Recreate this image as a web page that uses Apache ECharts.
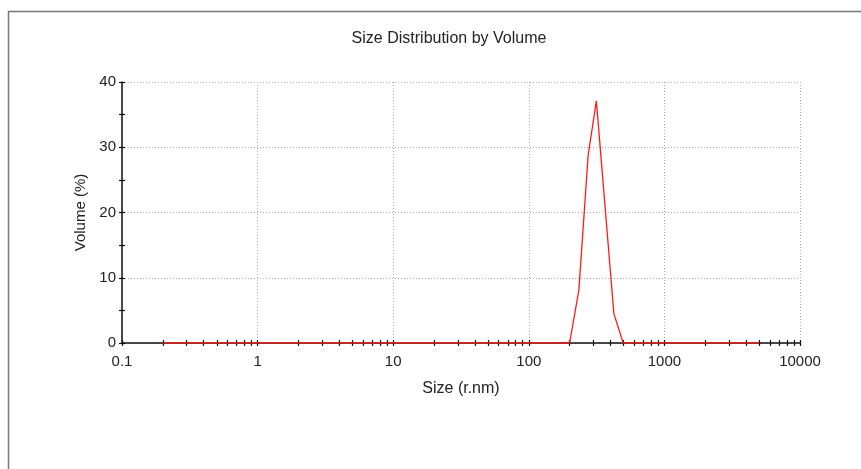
<!DOCTYPE html>
<html><head><meta charset="utf-8">
<script src="https://cdn.jsdelivr.net/npm/echarts@6/dist/echarts.min.js"></script>
<style>html,body{margin:0;padding:0;background:#fff}#c{width:861px;height:469px}</style>
</head><body><div id="c"></div>
<script>
const sizes = [0.2, 200, 234, 274, 315, 424, 497, 5000];
const volumes = [0, 0, 8.1, 28.8, 37.1, 4.5, 0, 0];
const xTicks = [];
[0.1, 1, 10, 100, 1000].forEach(d => { for (let k = 1; k <= 9; k++) xTicks.push(+(d * k).toPrecision(3)); });
xTicks.push(10000);
const xLabels = [0.1, 1, 10, 100, 1000, 10000];

const font = 'Liberation Sans, Arial, sans-serif';
const chart = echarts.init(document.getElementById('c'), null, {renderer: 'canvas'});
const baseX = {
  type: 'log', logBase: 10, min: 0.1, max: 10000, gridIndex: 0
};
chart.setOption({
  animation: false,
  backgroundColor: '#fff',
  title: {text: 'Size Distribution by Volume', left: 444, top: 26, textAlign: 'center',
    textStyle: {fontFamily: font, fontSize: 16, fontWeight: 'normal', color: '#222'}},
  graphic: [{type: 'rect', shape: {x: 8.5, y: 11.5, width: 900, height: 500}, silent: true,
    style: {fill: null, stroke: '#777', lineWidth: 1.5}}],
  grid: {left: 122, right: 61, top: 82, bottom: 126, containLabel: false},
  xAxis: [
    Object.assign({}, baseX, {
      name: 'Size (r.nm)', nameLocation: 'middle', nameGap: 38,
      nameTextStyle: {fontFamily: font, fontSize: 16, color: '#222'},
      axisLine: {show: true, onZero: false, lineStyle: {color: '#111', width: 1.5}},
      axisTick: {show: true, inside: false, length: 3, customValues: xTicks, lineStyle: {color: '#111', width: 1.2}},
      axisLabel: {show: true, customValues: xLabels, margin: 11, fontFamily: font, fontSize: 15, color: '#222',
        formatter: v => String(v)},
      splitLine: {show: false},
      minorTick: {show: false}
    }),
    Object.assign({}, baseX, {
      position: 'bottom',
      axisLine: {show: false},
      axisTick: {show: true, inside: true, length: 3, customValues: xTicks, lineStyle: {color: '#111', width: 1.2}},
      axisLabel: {show: false},
      splitLine: {show: false}
    }),
    Object.assign({}, baseX, {
      position: 'bottom',
      axisLine: {show: false},
      axisTick: {show: false},
      axisLabel: {show: false},
      splitLine: {show: true, lineStyle: {color: '#aaa', type: [1, 2], width: 1}}
    })
  ],
  yAxis: [
    {
      type: 'value', min: 0, max: 40, interval: 10,
      name: 'Volume (%)', nameLocation: 'middle', nameGap: 32, nameRotate: 90,
      nameTextStyle: {fontFamily: font, fontSize: 15, color: '#222'},
      axisLine: {show: true, onZero: false, lineStyle: {color: '#111', width: 1.5}},
      axisTick: {show: true, inside: false, length: 3, lineStyle: {color: '#111', width: 1.2}},
      minorTick: {show: true, splitNumber: 2, length: 3, lineStyle: {color: '#111', width: 1.2}},
      axisLabel: {margin: 6, fontFamily: font, fontSize: 15, color: '#222'},
      splitLine: {show: true, lineStyle: {color: '#aaa', type: [1, 2], width: 1}}
    },
    {
      type: 'value', min: 0, max: 40, interval: 10, position: 'left',
      axisLine: {show: false},
      axisTick: {show: true, inside: true, length: 3, lineStyle: {color: '#111', width: 1.2}},
      minorTick: {show: true, splitNumber: 2, length: 3, lineStyle: {color: '#111', width: 1.2}},
      axisLabel: {show: false},
      splitLine: {show: false}
    }
  ],
  series: [{
    type: 'line', xAxisIndex: 0, yAxisIndex: 0, symbol: 'none',
    data: sizes.map((s, i) => [s, volumes[i]]),
    lineStyle: {color: '#ff1a1a', width: 1.3}, z: 5
  }]
});
</script></body></html>
